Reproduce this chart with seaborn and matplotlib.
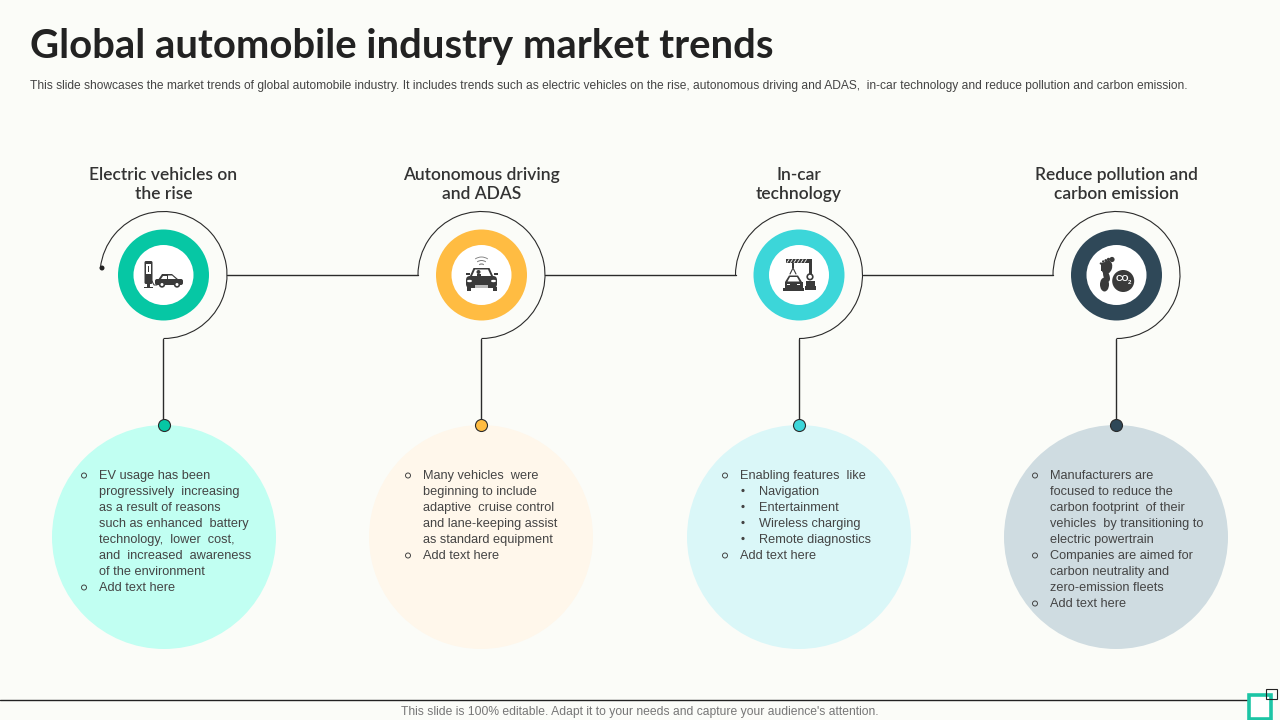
import numpy as np
import pandas as pd
import matplotlib
matplotlib.use("Agg")
import matplotlib.pyplot as plt
from matplotlib.patches import Arc, Circle, Ellipse, Rectangle, FancyBboxPatch
import seaborn as sns

# slide content
title = "Global automobile industry market trends"
subtitle = ("This slide showcases the market trends of global automobile industry. It includes trends such as "
            "electric vehicles on the rise, autonomous driving and ADAS,  in-car technology and reduce pollution "
            "and carbon emission.")
footer = "This slide is 100% editable. Adapt it to your needs and capture your audience's attention."

headings = [["Electric vehicles on", "the rise"],
            ["Autonomous driving", "and ADAS"],
            ["In-car", "technology"],
            ["Reduce pollution and", "carbon emission"]]

# each line: (indent level, bullet start?, text)
body_1 = [(0, True, "EV usage has been"), (0, False, "progressively  increasing"),
          (0, False, "as a result of reasons"), (0, False, "such as enhanced  battery"),
          (0, False, "technology,  lower  cost,"), (0, False, "and  increased  awareness"),
          (0, False, "of the environment"), (0, True, "Add text here")]
body_2 = [(0, True, "Many vehicles  were"), (0, False, "beginning to include"),
          (0, False, "adaptive  cruise control"), (0, False, "and lane-keeping assist"),
          (0, False, "as standard equipment"), (0, True, "Add text here")]
body_3 = [(0, True, "Enabling features  like"), (1, True, "Navigation"),
          (1, True, "Entertainment"), (1, True, "Wireless charging"),
          (1, True, "Remote diagnostics"), (0, True, "Add text here")]
body_4 = [(0, True, "Manufacturers are"), (0, False, "focused to reduce the"),
          (0, False, "carbon footprint  of their"), (0, False, "vehicles  by transitioning to"),
          (0, False, "electric powertrain"), (0, True, "Companies are aimed for"),
          (0, False, "carbon neutrality and"), (0, False, "zero-emission fleets"),
          (0, True, "Add text here")]
bodies = [body_1, body_2, body_3, body_4]

ring_x = [163.5, 481.5, 799, 1116.5]
bubble_x = [164, 481, 799, 1116]
text_x = [99, 423, 740, 1050]
ring_colors = ["#06C7A4", "#FFBC42", "#3CD6D9", "#2F4858"]
bubble_colors = ["#C1FFF2", "#FFF7EB", "#DAF7F8", "#CFDCE1"]

BG = "#FBFCF8"
LINE = "#2B2B2B"
ICON = "#3A3A3A"
TEXT = "#444444"
ring_y = 275
bubble_y = 537


def px_size(diameter):
    # scatter size for a diameter in pixels (dpi 100)
    return (diameter * 0.72) ** 2


def disc(ax, x, y, diameter, color, z, edge="none", lw=0):
    sns.scatterplot(x=[x], y=[y], s=px_size(diameter), color=color, edgecolor=edge,
                    linewidth=lw, zorder=z, ax=ax, legend=False, clip_on=False)


def rect(ax, x0, y0, x1, y1, color=ICON, z=6):
    ax.add_patch(Rectangle((x0, y0), x1 - x0, y1 - y0, fc=color, ec="none", zorder=z))


def side_car(ax, x, y):
    # small car in profile, x,y = left bottom
    ax.add_patch(FancyBboxPatch((x, y - 8), 28, 6, boxstyle="round,pad=0,rounding_size=2", fc=ICON, ec="none", zorder=6))
    ax.fill([x + 3, x + 7, x + 17, x + 24], [y - 7, y - 13, y - 13, y - 7], color=ICON, zorder=6, lw=0)
    ax.fill([x + 8, x + 12, x + 12, x + 6], [y - 11.5, y - 11.5, y - 8, y - 8], color="white", zorder=7, lw=0)
    ax.fill([x + 13, x + 17, x + 21, x + 13], [y - 11.5, y - 11.5, y - 8, y - 8], color="white", zorder=7, lw=0)
    for wx in (x + 7, x + 22):
        ax.add_patch(Circle((wx, y - 2.5), 3.2, fc=ICON, ec="none", zorder=7))
        ax.add_patch(Circle((wx, y - 2.5), 1.5, fc="white", ec="none", zorder=8))


def icon_ev(ax):
    ax.add_patch(FancyBboxPatch((144.5, 261), 8, 23, boxstyle="round,pad=0,rounding_size=1.5", fc=ICON, ec="none", zorder=6))
    rect(ax, 146, 264, 151, 274, "white", 7)
    rect(ax, 147.8, 266, 149.2, 272, ICON, 8)
    rect(ax, 147, 284, 150, 287)
    rect(ax, 144, 286.5, 153, 287.5)
    ax.plot([152, 154, 157], [281, 285, 285], color=ICON, lw=0.7, zorder=6)
    side_car(ax, 155, 287)


def icon_auto(ax):
    x = 481.5
    for r, lw in ((4, 0.8), (7.5, 0.7), (11, 0.6)):
        ax.add_patch(Arc((x, 268), 2 * r, 2 * r, theta1=235, theta2=305, color="#777777", lw=lw, zorder=6))
    ax.fill([x - 12, x - 8, x + 8, x + 12], [277, 268, 268, 277], color=ICON, lw=0, zorder=6)
    ax.fill([x - 9.5, x - 6.5, x + 6.5, x + 9.5], [276, 269.5, 269.5, 276], color="white", lw=0, zorder=7)
    ax.add_patch(Circle((x - 3, 272), 2, fc=ICON, ec="none", zorder=8))
    rect(ax, x - 5, 273.5, x - 1, 277, ICON, 8)
    ax.add_patch(FancyBboxPatch((x - 15.5, 276), 31, 12, boxstyle="round,pad=0,rounding_size=4", fc=ICON, ec="none", zorder=6))
    rect(ax, x - 16, 273, x - 12, 275)
    rect(ax, x + 12, 273, x + 16, 275)
    for s in (-1, 1):
        ax.add_patch(Ellipse((x + s * 12, 281), 5, 2.4, fc="white", ec="none", zorder=7))
        rect(ax, x + s * 13 - 2, 287, x + s * 13 + 2, 290.5)
    rect(ax, x - 6.5, 285, x + 6.5, 287.5, "#BBBBBB", 7)


def icon_robot(ax):
    rect(ax, 785.5, 259, 812, 263)
    for sx in np.arange(787, 808, 3.5):
        ax.plot([sx, sx + 2], [262.5, 259.5], color="white", lw=0.6, zorder=7)
    rect(ax, 808.5, 259, 812, 274)
    ax.add_patch(Circle((810, 276.8), 2.8, fc="white", ec=ICON, lw=1.2, zorder=7))
    rect(ax, 806, 281, 815, 287)
    rect(ax, 805, 286, 816, 290)
    rect(ax, 791.5, 263, 793.5, 268)
    ax.plot([790, 793, 796], [274, 268, 274], color=ICON, lw=0.8, zorder=6)
    ax.fill([785, 789, 798, 802], [282, 275.5, 275.5, 282], color=ICON, lw=0, zorder=6)
    ax.fill([787.5, 790, 797, 799.5], [281.5, 277, 277, 281.5], color="white", lw=0, zorder=7)
    rect(ax, 784.5, 281.5, 802.5, 288)
    rect(ax, 783, 288, 804, 290.5)
    rect(ax, 787, 284, 790, 285.2, "white", 7)
    rect(ax, 797, 284, 800, 285.2, "white", 7)


def icon_foot(ax):
    # footprint and CO2 badge
    ax.add_patch(Ellipse((1107, 267.5), 10, 14, angle=20, fc=ICON, ec="none", zorder=6))
    ax.add_patch(Ellipse((1106.5, 276), 6, 12, angle=-20, fc=ICON, ec="none", zorder=6))
    ax.add_patch(Ellipse((1104.5, 284.5), 9, 14, fc=ICON, ec="none", zorder=6))
    ax.fill([1101, 1110, 1109, 1101], [263, 261, 271, 271], color=ICON, lw=0, zorder=6)
    for tx, ty, tr in ((1112, 259.5, 2.6), (1108.5, 259.5, 1.7), (1105.8, 260.5, 1.4),
                       (1103.2, 261.5, 1.2), (1100.8, 263.5, 1.1)):
        ax.add_patch(Circle((tx, ty), tr, fc=ICON, ec="none", zorder=6))
    ax.add_patch(Circle((1123.2, 281), 11, fc=ICON, ec="none", zorder=6))
    ax.text(1122, 278.5, "CO", color="white", fontsize=6.5, fontweight="bold", ha="center", va="center", zorder=7)
    ax.text(1129.5, 282, "2", color="white", fontsize=4.5, fontweight="bold", ha="center", va="center", zorder=7)


sns.set_theme(style="white", rc={"figure.facecolor": BG, "axes.facecolor": BG})
plt.rcParams["font.family"] = ["Liberation Sans", "DejaVu Sans"]

fig = plt.figure(figsize=(12.8, 7.2), dpi=100)
ax = fig.add_axes([0, 0, 1, 1])
ax.set_xlim(0, 1280)
ax.set_ylim(720, 0)
ax.axis("off")

ax.text(30, 58, title, fontsize=28.85, fontweight="bold", family="Lato", color="#222222", va="baseline", ha="left")
ax.text(30, 89, subtitle, fontsize=8.62, color=TEXT, va="baseline", ha="left")

# horizontal connectors between the arcs
for i in range(3):
    sns.lineplot(x=[ring_x[i] + 63.5, ring_x[i + 1] - 63.5], y=[ring_y, ring_y], color=LINE, lw=1,
                 ax=ax, legend=False, zorder=2, estimator=None, sort=False)

for i, cx in enumerate(ring_x):
    # partial outline around the ring, first one stops at the start dot
    start = 186.5 if i == 0 else 180
    ax.add_patch(Arc((cx, ring_y), 127, 127, theta1=start, theta2=90, color=LINE, lw=0.8, zorder=2))

    disc(ax, cx, ring_y, 91, ring_colors[i], 3)
    disc(ax, cx, ring_y, 60, "white", 4)

    disc(ax, bubble_x[i], bubble_y, 224, bubble_colors[i], 1)
    sns.lineplot(x=[cx - 0.5, cx - 0.5], y=[338.5, 425], color=LINE, lw=1, ax=ax, legend=False, zorder=2,
                 estimator=None, sort=False)
    disc(ax, bubble_x[i], 425, 12, ring_colors[i], 5, edge=LINE, lw=0.8)

    for j, line in enumerate(headings[i]):
        ax.text(cx, 180 + j * 19.2, line, fontsize=12.5, fontweight="semibold", family="Lato",
                color="#333333", ha="center", va="baseline")

    for j, (level, bullet, line) in enumerate(bodies[i]):
        y = 474.5 + j * 16
        if level == 0:
            if bullet:
                ax.add_patch(Circle((text_x[i] - 15, y + 1), 2.5, fc="none", ec=TEXT, lw=0.7, zorder=6))
            ax.text(text_x[i], y + 4.5, line, fontsize=9.2, color=TEXT, ha="left", va="baseline", zorder=6)
        else:
            ax.add_patch(Circle((text_x[i] + 3, y), 1.6, fc=TEXT, ec="none", zorder=6))
            ax.text(text_x[i] + 19, y + 4.5, line, fontsize=9.2, color=TEXT, ha="left", va="baseline", zorder=6)

disc(ax, 102, 268, 5, "#222222", 5)

icon_ev(ax)
icon_auto(ax)
icon_robot(ax)
icon_foot(ax)

# footer
ax.plot([0, 1247], [700, 700], color="#222222", lw=1, zorder=2)
ax.text(640, 715.5, footer, fontsize=8.75, color="#777777", ha="center", va="baseline")
ax.add_patch(Rectangle((1248.5, 694.5), 22, 24, fc="white", ec="#1CC5A5", lw=2.6, zorder=3, clip_on=False))
ax.add_patch(Rectangle((1266, 689), 11, 10, fc="none", ec="#222222", lw=0.8, zorder=4))

fig.savefig("out.png", dpi=100, facecolor=BG)
